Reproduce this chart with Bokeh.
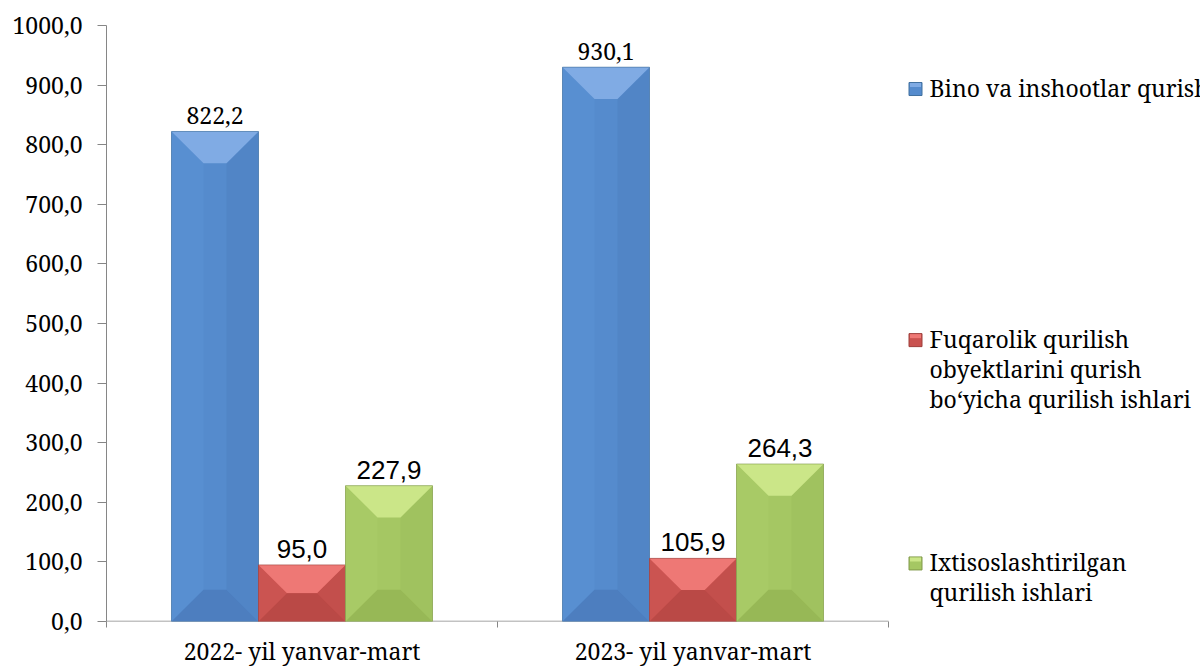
from bokeh.plotting import figure
from bokeh.models import Range1d, FixedTicker, CustomJSTickFormatter, LinearAxis
from bokeh.core.properties import value
from bokeh.embed import file_html
from bokeh.resources import INLINE

# ---------------- data ----------------
categories = ["2022- yil yanvar-mart", "2023- yil yanvar-mart"]
series_names = [
    ["Bino va inshootlar qurish"],
    ["Fuqarolik qurilish", "obyektlarini  qurish", "bo\u2018yicha qurilish ishlari"],
    ["Ixtisoslashtirilgan", "qurilish ishlari"],
]
bino = [822.2, 930.1]
fuqarolik = [95.0, 105.9]
ixtisos = [227.9, 264.3]
series_values = [bino, fuqarolik, ixtisos]
y_ticks = [0, 100, 200, 300, 400, 500, 600, 700, 800, 900, 1000]

# ---------------- style ----------------
F_SERIF = "Noto Serif"
SERIF_SIZE = "23px"
SANS = "Liberation Sans"
label_fonts = [F_SERIF, SANS, SANS]
label_sizes = [SERIF_SIZE, "26px", "26px"]
palette = [  # body, left, right, top, bottom, edge
    ("#558BCD", "#588FD1", "#5185C6", "#80ABE4", "#4D7EBF", "#41709F"),
    ("#C9524F", "#CB5451", "#C34F4C", "#EE7875", "#BA4946", "#9E3E3B"),
    ("#A5C763", "#A8CA66", "#A0C25F", "#CBE688", "#97B856", "#80994A"),
]

W, H = 1200, 669
LEFT, TOP, BOTTOM = 106, 25, 44
CAT_PX = 391.0
x_end = (W - LEFT) / CAT_PX
y_end = 1000.0
bar_w = 87.0 / CAT_PX

p = figure(width=W, height=H, output_backend="svg", toolbar_location=None,
           x_range=Range1d(0, x_end), y_range=Range1d(0, y_end),
           x_axis_location=None, y_axis_location=None,
           min_border_left=LEFT, min_border_right=0, min_border_top=TOP,
           min_border_bottom=BOTTOM)
p.outline_line_color = None
p.xgrid.visible = False
p.ygrid.visible = False
p.background_fill_color = "white"
p.border_fill_color = "white"

AX = "#868686"
yax = LinearAxis(ticker=FixedTicker(ticks=y_ticks),
                 formatter=CustomJSTickFormatter(code="return tick.toFixed(1).replace('.', ',');"))
yax.axis_line_color = AX
yax.major_tick_line_color = AX
yax.major_tick_out = 9
yax.major_tick_in = 0
yax.minor_tick_line_color = None
yax.major_label_text_font = F_SERIF
yax.major_label_text_font_size = SERIF_SIZE
yax.major_label_text_color = "black"
yax.major_label_standoff = 15
p.add_layout(yax, "left")

ncat = len(categories)
xax = LinearAxis(ticker=FixedTicker(ticks=[i + 0.5 for i in range(ncat)],
                                    minor_ticks=list(range(ncat + 1))),
                 formatter=CustomJSTickFormatter(args=dict(labels=categories),
                                                 code="return labels[Math.round(tick - 0.5)];"))
xax.axis_line_color = None
xax.major_tick_line_color = None
xax.major_tick_out = 0
xax.major_tick_in = 0
xax.minor_tick_line_color = AX
xax.minor_tick_out = 6
xax.minor_tick_in = 0
xax.major_label_text_font = F_SERIF
xax.major_label_text_font_size = SERIF_SIZE
xax.major_label_text_color = "black"
xax.major_label_standoff = 7
p.add_layout(xax, "below")

p.segment(x0=[0], y0=[0], x1=[ncat], y1=[0], line_color=AX, line_width=1.3)

frame_h = 625.5 - TOP
px_x = 1.0 / CAT_PX
px_y = y_end / frame_h

for s, vals in enumerate(series_values):
    body, lc, rc, tc, bc, ec = palette[s]
    xs_c = [i + 0.5 + (s - 1) * bar_w for i in range(ncat)]
    lefts = [x - bar_w / 2 for x in xs_c]
    rights = [x + bar_w / 2 for x in xs_c]
    p.quad(left=lefts, right=rights, bottom=[0] * ncat, top=vals,
           fill_color=body, line_color=None)
    L_xs, L_ys, R_xs, R_ys, T_xs, T_ys, B_xs, B_ys = [], [], [], [], [], [], [], []
    for Lx, Rx, v in zip(lefts, rights, vals):
        d_px = min(32.0, (v / px_y) / 2.0)
        dx, dy = d_px * px_x, d_px * px_y
        L_xs.append([Lx, Lx + dx, Lx + dx, Lx]); L_ys.append([v, v - dy, dy, 0])
        R_xs.append([Rx, Rx - dx, Rx - dx, Rx]); R_ys.append([v, v - dy, dy, 0])
        T_xs.append([Lx, Rx, Rx - dx, Lx + dx]); T_ys.append([v, v, v - dy, v - dy])
        B_xs.append([Lx, Rx, Rx - dx, Lx + dx]); B_ys.append([0, 0, dy, dy])
    p.patches(L_xs, L_ys, fill_color=lc, line_color=None)
    p.patches(R_xs, R_ys, fill_color=rc, line_color=None)
    p.patches(T_xs, T_ys, fill_color=tc, line_color=None)
    p.patches(B_xs, B_ys, fill_color=bc, line_color=None)
    p.quad(left=lefts, right=rights, bottom=[0] * ncat, top=vals,
           fill_color=None, line_color=ec, line_width=1, line_alpha=0.6)
    p.text(x=xs_c, y=vals, text=[f"{v:.1f}".replace(".", ",") for v in vals],
           text_font=value(label_fonts[s]), text_font_size=label_sizes[s],
           text_color="black", text_align="center", text_baseline="alphabetic",
           y_offset=-16)

def px2x(px):
    return (px - LEFT) / CAT_PX

def py2y(py):
    return (625.5 - py) * px_y

legend_tops = [88, 341, 566]
for s, lines in enumerate(series_names):
    body, lc, rc, tc, bc, ec = palette[s]
    y0 = legend_tops[s]
    p.rect(x=[px2x(915)], y=[py2y(y0 + 1)], width=13, height=13,
           width_units="screen", height_units="screen",
           fill_color=body, line_color=ec, line_width=1)
    p.rect(x=[px2x(915)], y=[py2y(y0 - 3)], width=11, height=4,
           width_units="screen", height_units="screen",
           fill_color=tc, line_color=None)
    p.text(x=[px2x(929)] * len(lines), y=[py2y(y0 + 30 * k) for k in range(len(lines))],
           text=lines, text_font=value(F_SERIF), text_font_size=SERIF_SIZE,
           text_color="black", text_align="left", text_baseline="middle")

open("out.html", "w").write(file_html(p, INLINE))
